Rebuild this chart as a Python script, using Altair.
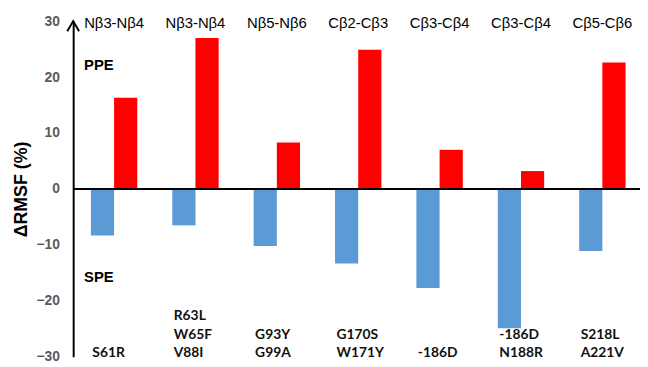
import altair as alt
import pandas as pd

group_ids = ["g1", "g2", "g3", "g4", "g5", "g6", "g7"]
regions = ["Nβ3-Nβ4", "Nβ3-Nβ4", "Nβ5-Nβ6", "Cβ2-Cβ3", "Cβ3-Cβ4", "Cβ3-Cβ4", "Cβ5-Cβ6"]
mutations = [["S61R"], ["R63L", "W65F", "V88I"], ["G93Y", "G99A"], ["G170S", "W171Y"],
             ["-186D"], ["-186D", "N188R"], ["S218L", "A221V"]]
spe = [-8.3, -6.5, -10.2, -13.3, -17.7, -24.9, -11.1]
ppe = [16.3, 27.0, 8.3, 24.9, 7.0, 3.2, 22.6]
series = ["SPE", "PPE"]
series_colors = ["#5B9BD5", "#FF0000"]
y_ticks = [-30, -20, -10, 0, 10, 20, 30]
annot_text = ["PPE", "SPE"]
annot_pos = [22.2, -15.8]

W, H = 566, 340
LINE_H = 18.5

bars = pd.DataFrame({
    "group": group_ids * 2,
    "series": ["SPE"] * len(spe) + ["PPE"] * len(ppe),
    "value": spe + ppe,
})
labels = pd.DataFrame({"group": group_ids, "region": regions})
mut_rows = []
for g, lines in zip(group_ids, mutations):
    for i, t in enumerate(lines):
        mut_rows.append({"group": g, "text": t, "k": len(lines) - 1 - i})
muts = pd.DataFrame(mut_rows)
annots = pd.DataFrame({"label": annot_text, "value": annot_pos})
arrow_df = pd.DataFrame({"value": [30]})

xscale = alt.Scale(domain=group_ids, paddingInner=0.43, paddingOuter=0.149, align=0.73)
yscale = alt.Scale(domain=[-30, 30], nice=False)
x = alt.X("group:N", scale=xscale, axis=None)

bar = alt.Chart(bars).mark_bar().encode(
    x=x,
    xOffset=alt.XOffset("series:N", scale=alt.Scale(domain=series)),
    y=alt.Y("value:Q", scale=yscale,
            axis=alt.Axis(values=y_ticks, title="ΔRMSF (%)", domainColor="black",
                          domainWidth=2, ticks=False, grid=False,
                          labelFont="Liberation Sans", labelFontWeight="bold",
                          labelFontSize=14, labelColor="#595959", labelPadding=14,
                          titleFont="Liberation Sans", titleFontSize=18,
                          titleFontWeight="bold", titleColor="black", titlePadding=6)),
    color=alt.Color("series:N", scale=alt.Scale(domain=series, range=series_colors),
                    legend=None),
)

zero = alt.Chart(arrow_df).mark_rule(color="black", strokeWidth=2).encode(
    y=alt.datum(0), x=alt.value(0), x2=alt.value(W + 8)
)

arrow = alt.Chart(arrow_df).mark_point(
    shape="M-1,1.7L0,0L1,1.7", size=144, filled=False, color="black",
    strokeWidth=2, opacity=1
).encode(x=alt.value(0), y=alt.Y("value:Q", scale=yscale))

top_text = alt.Chart(labels).mark_text(
    font="Liberation Sans", fontSize=15, color="black", baseline="alphabetic", dy=7
).encode(x=x, y=alt.datum(30), text="region:N")

bottom_layers = []
for k in range(3):
    bottom_layers.append(
        alt.Chart(muts).transform_filter(alt.datum.k == k).mark_text(
            font="Lato", fontWeight="bold", fontSize=14, color="#111111", align="left",
            baseline="bottom", dx=-22, dy=3 - k * LINE_H
        ).encode(x=x, y=alt.datum(-30), text="text:N")
    )

annot = alt.Chart(annots).mark_text(
    font="Liberation Sans", fontWeight="bold", fontSize=15, color="black",
    align="left", baseline="middle"
).encode(x=alt.value(11), y=alt.Y("value:Q", scale=yscale), text="label:N")

chart = alt.layer(bar, zero, arrow, top_text, *bottom_layers, annot).properties(
    width=W, height=H,
    autosize=alt.AutoSizeParams(type="none"),
    padding={"left": 66, "top": 11, "right": 8, "bottom": 8},
).configure_view(stroke=None)

chart.save("out.html", embed_options={"renderer": "svg", "actions": False})
